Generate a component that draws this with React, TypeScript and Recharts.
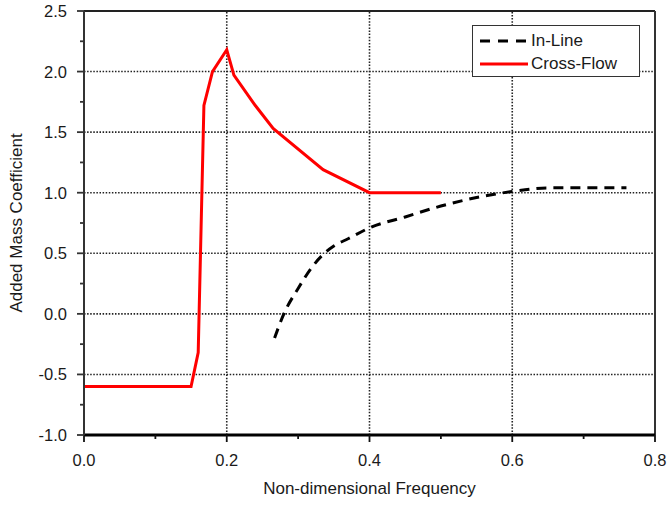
import React from 'react';
import { LineChart, Line, XAxis, YAxis, ReferenceLine, Legend } from 'recharts';

const inLineX = [0.267, 0.28, 0.3, 0.32, 0.335, 0.35, 0.37, 0.4, 0.45, 0.5, 0.55, 0.6, 0.65, 0.7, 0.76];
const inLineY = [-0.2, 0.0, 0.21, 0.39, 0.49, 0.56, 0.62, 0.71, 0.8, 0.89, 0.96, 1.01, 1.04, 1.04, 1.04];

const crossFlowX = [0, 0.15, 0.16, 0.168, 0.18, 0.2, 0.21, 0.24, 0.265, 0.335, 0.4, 0.5];
const crossFlowY = [-0.6, -0.6, -0.32, 1.72, 2.0, 2.18, 1.97, 1.72, 1.53, 1.19, 1.0, 1.0];

const xTicks = [0, 0.1, 0.2, 0.3, 0.4, 0.5, 0.6, 0.7, 0.8];
const yTicks = [-1, -0.75, -0.5, -0.25, 0, 0.25, 0.5, 0.75, 1, 1.25, 1.5, 1.75, 2, 2.25, 2.5];
const xGrid = [0.2, 0.4, 0.6];
const yGrid = [-0.5, 0, 0.5, 1, 1.5, 2];

const seriesNames = ['In-Line', 'Cross-Flow'];
const xTitle = 'Non-dimensional Frequency';
const yTitle = 'Added Mass Coefficient';

const inLineData = inLineX.map((x, i) => ({ x, y: inLineY[i] }));
const crossFlowData = crossFlowX.map((x, i) => ({ x, y: crossFlowY[i] }));

const FONT = '"Liberation Sans", Arial, Helvetica, sans-serif';
const TEXT = '#1a1a1a';

const W = 667;
const H = 505;
const PLOT_LEFT = 84;
const PLOT_RIGHT = 655;
const PLOT_TOP = 11;
const PLOT_BOTTOM = 435;

const seriesStyle: Record<string, { color: string; dash?: string }> = {
  'In-Line': { color: '#000000', dash: '10 7' },
  'Cross-Flow': { color: '#ff0000' },
};

const YTick = (props: any) => {
  const { x, y, payload } = props;
  const v = payload.value as number;
  const major = Math.abs(v * 2 - Math.round(v * 2)) < 1e-6;
  return (
    <g>
      <line x1={x} x2={x - (major ? 7 : 4)} y1={y} y2={y} stroke="#333" strokeWidth={1.8} />
      {major && (
        <text x={x - 17} y={y} textAnchor="end" dominantBaseline="central" fontSize={16.5} fontFamily={FONT} fill={TEXT}>
          {v.toFixed(1)}
        </text>
      )}
    </g>
  );
};

const XTick = (props: any) => {
  const { x, y, payload } = props;
  const v = payload.value as number;
  const major = Math.abs(v * 5 - Math.round(v * 5)) < 1e-6;
  return (
    <g>
      <line x1={x} x2={x} y1={y} y2={y + (major ? 7 : 4)} stroke="#111" strokeWidth={1.8} />
      {major && (
        <text x={x} y={y + 31} textAnchor="middle" fontSize={16.5} fontFamily={FONT} fill={TEXT}>
          {v.toFixed(1)}
        </text>
      )}
    </g>
  );
};

const LegendBox = (props: any) => {
  const payload = [...(props.payload || [])].sort(
    (a: any, b: any) => seriesNames.indexOf(a.value) - seriesNames.indexOf(b.value)
  );
  return (
    <div
      style={{
        width: 168,
        height: 52,
        border: '1.5px solid #333',
        background: '#fff',
        boxSizing: 'border-box',
        fontFamily: FONT,
        fontSize: 17,
        color: TEXT,
        paddingTop: 3,
      }}
    >
      {payload.map((entry: any) => {
        const st = seriesStyle[entry.value] || { color: entry.color };
        return (
          <div key={entry.value} style={{ display: 'flex', alignItems: 'center', height: 23 }}>
            <svg width={58} height={10} style={{ display: 'block' }}>
              <line
                x1={7}
                x2={55}
                y1={5}
                y2={5}
                stroke={st.color}
                strokeWidth={3}
                strokeDasharray={st.dash ? '10 8' : undefined}
              />
            </svg>
            <span style={{ lineHeight: '17px' }}>{entry.value}</span>
          </div>
        );
      })}
    </div>
  );
};

export default function App() {
  return (
    <div style={{ position: 'absolute', left: 0, top: 0, width: W, height: H, background: '#fff' }}>
      <LineChart
        width={W}
        height={H}
        margin={{ top: PLOT_TOP, right: W - PLOT_RIGHT, bottom: 0, left: 0 }}
      >
        <XAxis
          type="number"
          dataKey="x"
          domain={[0, 0.8]}
          ticks={xTicks}
          allowDataOverflow
          height={H - PLOT_BOTTOM}
          tickSize={0}
          tickMargin={0}
          tickLine={false}
          axisLine={{ stroke: '#000', strokeWidth: 3 }}
          tick={<XTick />}
          interval={0}
        />
        <YAxis
          type="number"
          dataKey="y"
          domain={[-1, 2.5]}
          ticks={yTicks}
          allowDataOverflow
          width={PLOT_LEFT}
          tickSize={0}
          tickMargin={0}
          tickLine={false}
          axisLine={{ stroke: '#333', strokeWidth: 2 }}
          tick={<YTick />}
          interval={0}
        />
        {yGrid.map((v) => (
          <ReferenceLine key={'gy' + v} y={v} stroke="#222" strokeWidth={1.6} strokeDasharray="1.5 1.6" />
        ))}
        {xGrid.map((v) => (
          <ReferenceLine key={'gx' + v} x={v} stroke="#222" strokeWidth={1.6} strokeDasharray="1.5 1.6" />
        ))}
        <ReferenceLine y={2.5} stroke="#222" strokeWidth={2} />
        <ReferenceLine x={0.8} stroke="#333" strokeWidth={2} />
        <Line
          data={inLineData}
          dataKey="y"
          name={seriesNames[0]}
          type="monotone"
          stroke={seriesStyle['In-Line'].color}
          strokeWidth={3}
          strokeDasharray={seriesStyle['In-Line'].dash}
          dot={false}
          activeDot={false}
          isAnimationActive={false}
        />
        <Line
          data={crossFlowData}
          dataKey="y"
          name={seriesNames[1]}
          type="linear"
          stroke={seriesStyle['Cross-Flow'].color}
          strokeWidth={3}
          dot={false}
          activeDot={false}
          isAnimationActive={false}
        />
        <Legend
          layout="vertical"
          align="center"
          verticalAlign="middle"
          content={<LegendBox />}
          wrapperStyle={{ position: 'absolute', left: 472, top: 25, width: 168, height: 52 }}
        />
        <text
          x={(PLOT_LEFT + PLOT_RIGHT) / 2}
          y={493.5}
          textAnchor="middle"
          fontSize={17}
          fontFamily={FONT}
          fill={TEXT}
        >
          {xTitle}
        </text>
        <text
          x={0}
          y={0}
          transform={`translate(22, ${(PLOT_TOP + PLOT_BOTTOM) / 2}) rotate(-90)`}
          textAnchor="middle"
          fontSize={17}
          fontFamily={FONT}
          fill={TEXT}
        >
          {yTitle}
        </text>
      </LineChart>
    </div>
  );
}
